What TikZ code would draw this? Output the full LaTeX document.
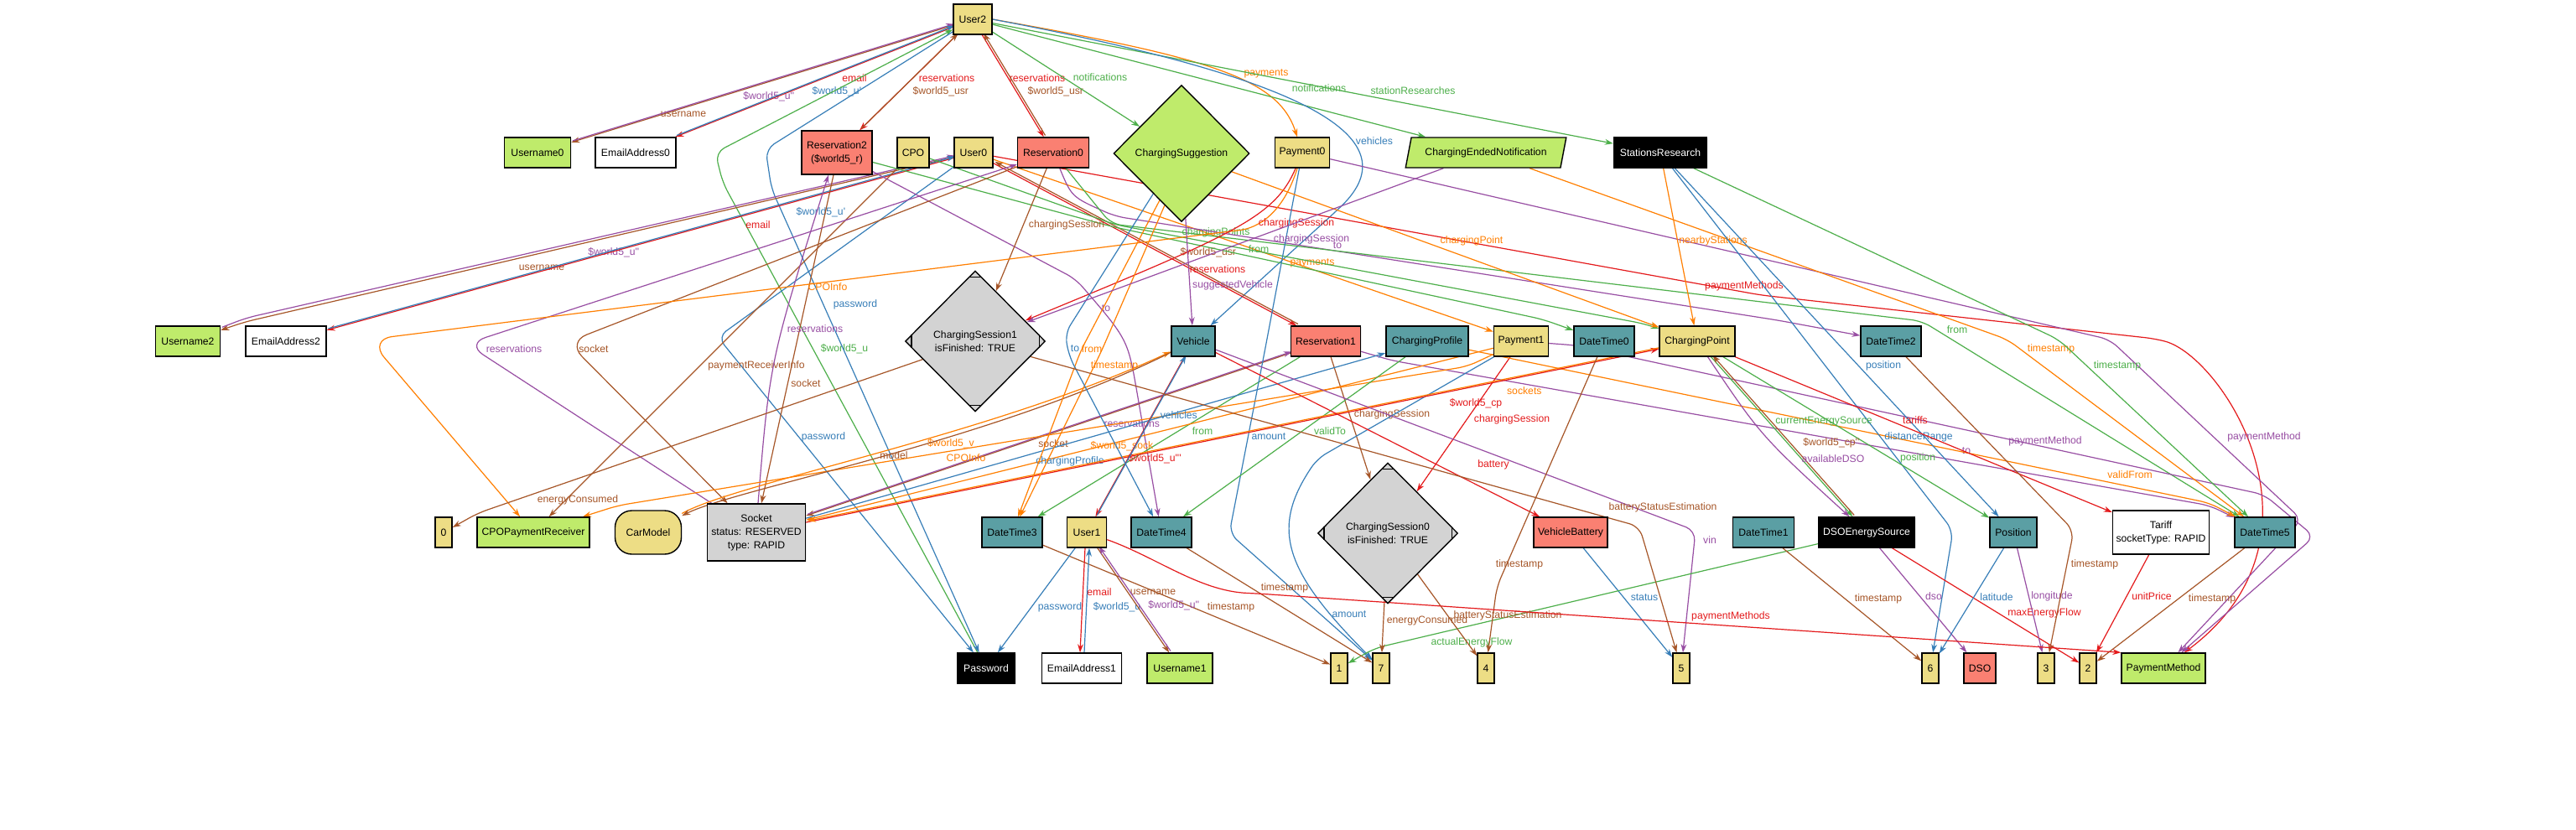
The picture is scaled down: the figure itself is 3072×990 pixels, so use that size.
\documentclass[tikz,border=0pt]{standalone}
\usepackage{fontspec}
\newfontfamily\lab{Liberation Sans}
\usetikzlibrary{shapes.geometric,arrows.meta,shadows}
\definecolor{eR}{HTML}{E41A1C}
\definecolor{eB}{HTML}{377EB8}
\definecolor{eG}{HTML}{4DAF4A}
\definecolor{eP}{HTML}{984EA3}
\definecolor{eO}{HTML}{FF7F00}
\definecolor{eN}{HTML}{A65628}
\definecolor{nY}{HTML}{EDDD85}
\definecolor{nG}{HTML}{BFEB6B}
\definecolor{nS}{HTML}{FA8072}
\definecolor{nT}{HTML}{5B9FA4}
\definecolor{nX}{HTML}{D3D3D3}
\newcommand\dfont{\lab\fontsize{6.1}{8}\selectfont}
\pgfdeclarelayer{bg}
\pgfdeclarelayer{edges}
\pgfsetlayers{bg,edges,main}
\begin{document}
\begin{tikzpicture}[x=0.5pt,y=-0.5pt,
 shd/.style={drop shadow={shadow xshift=0.5pt,shadow yshift=-0.5pt,opacity=0.15}},
 nbox/.style={draw,line width=0.7pt,rectangle,inner sep=0.5pt,minimum height=18pt,font=\dfont,align=center,shd},
 dia/.style={diamond,draw,line width=0.7pt,inner sep=0pt,font=\dfont,align=center,shd},
 para/.style={trapezium,trapezium left angle=67,trapezium right angle=113,trapezium stretches=true,draw,line width=0.7pt,minimum width=96pt,minimum height=18pt,inner sep=0.5pt,font=\dfont,shd},
 yel/.style={fill=nY}, grn/.style={fill=nG}, sal/.style={fill=nS}, tea/.style={fill=nT},
 gry/.style={fill=nX}, blk/.style={fill=black,text=white}, wht/.style={fill=white},
 e/.style={line width=0.6pt,-{Stealth[length=5pt,width=3.4pt]},rounded corners=6pt},
 o1/.style={transform canvas={shift={(0.9pt,0.9pt)}}},
 lb/.style={font=\dfont,inner sep=0pt}]
\begin{pgfonlayer}{bg}
\fill[white] (0,0) rectangle (3072,990);
\end{pgfonlayer}
\useasboundingbox (0,0) rectangle (3072,990);
% ---------------- nodes ----------------
\node[nbox,yel,minimum width=23pt] (User2) at (1160,23) {User2};
\node[nbox,grn,minimum width=39.5pt] (Username0) at (641,182) {Username0};
\node[nbox,wht,minimum width=48pt] (EmailAddress0) at (758,182) {EmailAddress0};
\node[nbox,sal,minimum width=42pt,minimum height=26pt] (Reservation2) at (998,182) {Reservation2\\(\$world5\_r)};
\node[nbox,yel,minimum width=19pt] (CPO) at (1089,182) {CPO};
\node[nbox,yel,minimum width=23pt] (User0) at (1161,182) {User0};
\node[nbox,sal,minimum width=42.5pt] (Reservation0) at (1256,182) {Reservation0};
\node[dia,grn,minimum width=81pt,minimum height=81.5pt] (ChargingSuggestion) at (1409,183) {ChargingSuggestion};
\node[nbox,yel,minimum width=32.5pt] (Payment0) at (1553,182) {Payment0};
\node[para,grn] (ChargingEndedNotification) at (1772,182) {ChargingEndedNotification};
\node[nbox,blk,minimum width=55.5pt] (StationsResearch) at (1980,182) {StationsResearch};
\node[nbox,grn,minimum width=38.5pt] (Username2) at (224,407) {Username2};
\node[nbox,wht,minimum width=48pt] (EmailAddress2) at (341,407) {EmailAddress2};
\node[dia,gry,minimum width=83.5pt,minimum height=84pt] (CS1) at (1163,407) {ChargingSession1\\isFinished: TRUE};
\node[nbox,tea,minimum width=26pt] (Vehicle) at (1423,407) {Vehicle};
\node[nbox,sal,minimum width=41.5pt] (Reservation1) at (1581,407) {Reservation1};
\node[nbox,tea,minimum width=49pt] (ChargingProfile) at (1702,407) {ChargingProfile};
\node[nbox,yel,minimum width=32.5pt] (Payment1) at (1814,407) {Payment1};
\node[nbox,tea,minimum width=36pt] (DateTime0) at (1913,407) {DateTime0};
\node[nbox,yel,minimum width=45pt] (ChargingPoint) at (2024,407) {ChargingPoint};
\node[nbox,tea,minimum width=36pt] (DateTime2) at (2255,407) {DateTime2};
\node[nbox,yel,minimum width=10pt] (n0) at (529,635) {0};
\node[nbox,grn,minimum width=67pt] (CPOPaymentReceiver) at (636,635) {CPOPaymentReceiver};
\node[nbox,yel,minimum width=39.5pt,minimum height=26pt,rounded corners=10pt] (CarModel) at (773,635) {CarModel};
\node[nbox,gry,minimum width=58.5pt,minimum height=34pt] (Socket) at (902,635) {Socket\\status: RESERVED\\type: RAPID};
\node[nbox,tea,minimum width=36pt] (DateTime3) at (1207,635) {DateTime3};
\node[nbox,yel,minimum width=23.5pt] (User1) at (1296,635) {User1};
\node[nbox,tea,minimum width=36pt] (DateTime4) at (1385,635) {DateTime4};
\node[dia,gry,minimum width=83.5pt,minimum height=84pt] (CS0) at (1655,636) {ChargingSession0\\isFinished: TRUE};
\node[nbox,sal,minimum width=44pt] (VehicleBattery) at (1873,635) {VehicleBattery};
\node[nbox,tea,minimum width=36.5pt] (DateTime1) at (2103,635) {DateTime1};
\node[nbox,blk,minimum width=57.5pt] (DSOEnergySource) at (2226,635) {DSOEnergySource};
\node[nbox,tea,minimum width=28pt] (Position) at (2401,635) {Position};
\node[nbox,wht,minimum width=57.5pt,minimum height=26pt] (Tariff) at (2577,635) {Tariff\\socketType: RAPID};
\node[nbox,tea,minimum width=36pt] (DateTime5) at (2701,635) {DateTime5};
\node[nbox,blk,minimum width=34.5pt] (Password) at (1176,797) {Password};
\node[nbox,wht,minimum width=47.5pt] (EmailAddress1) at (1290,797) {EmailAddress1};
\node[nbox,grn,minimum width=39pt] (Username1) at (1407,797) {Username1};
\node[nbox,yel,minimum width=10pt] (n1) at (1597,797) {1};
\node[nbox,yel,minimum width=10pt] (n7) at (1647,797) {7};
\node[nbox,yel,minimum width=10pt] (n4) at (1772,797) {4};
\node[nbox,yel,minimum width=10pt] (n5) at (2005,797) {5};
\node[nbox,yel,minimum width=10pt] (n6) at (2302,797) {6};
\node[nbox,sal,minimum width=19pt] (DSO) at (2361,797) {DSO};
\node[nbox,yel,minimum width=10pt] (n3) at (2440,797) {3};
\node[nbox,yel,minimum width=10pt] (n2) at (2490,797) {2};
\node[nbox,grn,minimum width=50pt] (PaymentMethod) at (2580,797) {PaymentMethod};
% Mdiamond corner marks
\foreach \n in {CS0,CS1}{
 \draw[line width=0.7pt] ([shift={(-8,8)}]\n.north) -- ([shift={(8,8)}]\n.north);
 \draw[line width=0.7pt] ([shift={(-8,-8)}]\n.south) -- ([shift={(8,-8)}]\n.south);
 \draw[line width=0.7pt] ([shift={(8,-8)}]\n.west) -- ([shift={(8,8)}]\n.west);
 \draw[line width=0.7pt] ([shift={(-8,-8)}]\n.east) -- ([shift={(-8,8)}]\n.east);
}
% ---------------- edges ----------------
\begin{pgfonlayer}{edges}
% User2
\draw[e,eN] (User2) -- (Username0) node[lb] at (815,136) {username};
\draw[e,eP,o1] (Username0) -- (User2) node[lb] at (915,117) {\$world5\_u'{}'};
\draw[e,eR] (User2) -- (EmailAddress0) node[lb] at (1019,93) {email};
\draw[e,eB,o1] (EmailAddress0) -- (User2) node[lb] at (996,111) {\$world5\_u'};
\draw[e,eR] (User2) -- (Reservation2) node[lb] at (1129,93) {reservations};
\draw[e,eN,o1] (Reservation2) -- (User2) node[lb] at (1120,111) {\$world5\_usr};
\draw[e,eR] (User2) -- (Reservation0) node[lb] at (1237,93) {reservations};
\draw[e,eN,o1] (Reservation0) -- (User2) node[lb] at (1257,111) {\$world5\_usr};
\draw[e,eG] (User2) -- (ChargingSuggestion) node[lb] at (1312,92) {notifications};
\draw[e,eO] (User2.east) .. controls (1450,70) and (1525,95) .. (Payment0) node[lb] at (1510,88) {payments};
\draw[e,eG] (User2) -- (ChargingEndedNotification) node[lb] at (1573,105) {notifications};
\draw[e,eG] (User2) -- (StationsResearch) node[lb] at (1685,108) {stationResearches};
\draw[e,eB] (User2.east) .. controls (1540,90) and (1690,160) .. (1590,255) -- (Vehicle) node[lb] at (1639,168) {vehicles};
\draw[e,eG] (Password) -- (862,218) -- (853,182) -- (User2) node[lb] at (1007,416) {\$world5\_u};
\draw[e,eB] (User2) -- (913,178) -- (920,225) -- (Password) node[lb] at (1020,363) {password};
% User0
\draw[e,eN] (User0) -- (292,384) -- (Username2) node[lb] at (646,319) {username};
\draw[e,eP,o1] (Username2) -- (292,381) -- (User0) node[lb] at (730,303) {\$world5\_u'{}'};
\draw[e,eR] (User0) -- (EmailAddress2) node[lb] at (904,268) {email};
\draw[e,eB,o1] (EmailAddress2) -- (User0) node[lb] at (977,255) {\$world5\_u'};
\draw[e,eB] (User0) -- (856,402) -- (Password) node[lb] at (982,521) {password};
\draw[e,eR] (User0) -- (Reservation1) node[lb] at (1452,321) {reservations};
\draw[e,eN,o1] (Reservation1) -- (User0) node[lb] at (1439,303) {\$world5\_usr};
\draw[e,eO] (User0) -- (Payment1) node[lb] at (1565,314) {payments};
\draw[e,eR] (User0) -- (2100,352) -- (2570,404) .. controls (2650,425) and (2790,640) .. (PaymentMethod) node[lb] at (2080,341) {paymentMethods};
% CPO
\draw[e,eG] (CPO) -- (1330,268) -- (1960,386) -- (ChargingPoint) node[lb] at (1450,277) {chargingPoints};
\draw[e,eN] (CPO) -- (CPOPaymentReceiver) node[lb] at (902,436) {paymentReceiverInfo};
% Reservation2
\draw[e,eG] (Reservation2) -- (1325,270) -- (1840,381) -- (DateTime0) node[lb] at (1501,297) {from};
\draw[e,eP] (Reservation2) -- (1283,333) .. controls (1345,405) .. (1358,480) -- (DateTime4) node[lb] at (1319,368) {to};
\draw[e,eN] ([xshift=-2pt]Reservation2.south) -- ([xshift=3pt]Socket.north) node[lb] at (961,457) {socket};
\draw[e,eP] ([xshift=1pt]Socket.north) .. controls (918,430) .. ([xshift=-5pt]Reservation2.south) node[lb] at (972,392) {reservations};
% Reservation0
\draw[e,eP] (Reservation0) .. controls (1278,235) .. (1330,258) -- (2120,382) -- (DateTime2) node[lb] at (1595,293) {to};
\draw[e,eG] (Reservation0) -- (1325,267) -- (2292,383) -- (DateTime5) node[lb] at (2334,393) {from};
\draw[e,eN] (Reservation0) -- (CS1) node[lb] at (1272,268) {chargingSession};
\draw[e,eP,rounded corners=12pt] (Socket) -- (556,410) -- (Reservation0) node[lb] at (613,416) {reservations};
\draw[e,eN,rounded corners=12pt] (Reservation0) -- (677,408) -- (Socket) node[lb] at (708,416) {socket};
% Reservation1
\draw[e,eG] (Reservation1) -- (DateTime3) node[lb] at (1434,514) {from};
\draw[e,eP] (Reservation1) -- (1660,430) -- (2635,603) -- (DateTime5) node[lb] at (2345,538) {to};
\draw[e,eN] (Reservation1) -- (Socket) node[lb] at (1256,529) {socket};
\draw[e,eP,o1] (Socket) -- (Reservation1) node[lb] at (1348,507) {reservations};
\draw[e,eN] (Reservation1) -- (CS0) node[lb] at (1660,494) {chargingSession};
% Payment0
\draw[e,eO,rounded corners=14pt] (Payment0) .. controls (1530,255) and (1500,272) .. (1450,278) -- (440,405) -- (CPOPaymentReceiver) node[lb] at (987,342) {CPOInfo};
\draw[e,eR] (Payment0) .. controls (1520,260) and (1470,280) .. (CS1) node[lb] at (1546,266) {chargingSession};
\draw[e,eB] (Payment0) -- (1508,420) -- (1466,636) -- (n7) node[lb] at (1513,521) {amount};
\draw[e,eP] (Payment0) -- (2120,313) -- (2516,405) -- (2745,620) -- (PaymentMethod) node[lb] at (2700,521) {paymentMethod};
% Payment1
\draw[e,eO] (Payment1) -- (1750,437) -- (737,603) -- (CPOPaymentReceiver) node[lb] at (1152,546) {CPOInfo};
\draw[e,eO] (Payment1) -- (Socket) node[lb] at (1338,532) {\$world5\_sock};
\draw[e,eR] (Payment1) -- (CS0) node[lb] at (1803,500) {chargingSession};
\draw[e,eB] (Payment1) -- (1571,547) .. controls (1515,630) and (1530,680) .. (n7) node[lb] at (1609,733) {amount};
\draw[e,eP] (Payment1) -- (1880,412) -- (2700,590) -- (2760,640) -- (PaymentMethod) node[lb] at (2439,526) {paymentMethod};
% ChargingProfile
\draw[e,eG] (ChargingProfile) -- (DateTime4) node[lb] at (1586,514) {validTo};
\draw[e,eO] (ChargingProfile) -- (2635,600) -- (DateTime5) node[lb] at (2540,566) {validFrom};
% Socket
\draw[e,eB] (Socket) -- (ChargingProfile) node[lb] at (1276,550) {chargingProfile};
\draw[e,eR] (Socket) -- (ChargingPoint) node[lb] at (1760,481) {\$world5\_cp};
\draw[e,eO,o1] (ChargingPoint) -- (Socket) node[lb] at (1816,468) {sockets};
% CarModel / Vehicle
\draw[e,eO] (CarModel) .. controls (880,575) and (1180,520) .. (Vehicle) node[lb] at (1134,529) {\$world5\_v};
\draw[e,eN] (Vehicle) .. controls (1180,528) and (880,582) .. (CarModel) node[lb] at (1066,543) {model};
\draw[e,eR] (Vehicle) -- (User1) node[lb] at (1377,547) {\$world5\_u'{}'{}'};
\draw[e,eB,o1] (User1) -- (Vehicle) node[lb] at (1404,497) {vehicles};
\draw[e,eR] (Vehicle) -- (VehicleBattery) node[lb] at (1781,554) {battery};
\draw[e,eP] (Vehicle) -- (2022,633) -- (n5) node[lb] at (2039,644) {vin};
\draw[e,eB] (VehicleBattery) -- (n5) node[lb] at (1961,713) {status};
% ChargingSuggestion
\draw[e,eP] (ChargingSuggestion) -- (Vehicle) node[lb] at (1470,340) {suggestedVehicle};
\draw[e,eO] (ChargingSuggestion.245) -- (1289,418) -- (DateTime3) node[lb] at (1302,416) {from};
\draw[e,eO] (ChargingSuggestion.252) -- (1313,420) -- (DateTime3) node[lb] at (1329,436) {timestamp};
\draw[e,eB] (ChargingSuggestion.235) -- (1270,398) -- (1275,425) -- (DateTime4) node[lb] at (1282,416) {to};
\draw[e,eO] (ChargingSuggestion) -- (ChargingPoint) node[lb] at (1755,287) {chargingPoint};
% ChargingEndedNotification
\draw[e,eP] (ChargingEndedNotification) -- (CS1) node[lb] at (1564,285) {chargingSession};
\draw[e,eO] (ChargingEndedNotification) -- (2394,405) -- (DateTime5) node[lb] at (2446,416) {timestamp};
% StationsResearch
\draw[e,eO] (StationsResearch) -- (ChargingPoint) node[lb] at (2043,287) {nearbyStations};
\draw[e,eB] (StationsResearch) -- (Position) node[lb] at (2246,436) {position};
\draw[e,eB] (StationsResearch) -- (2329,633) -- (n6) node[lb] at (2288,521) {distanceRange};
\draw[e,eG] (StationsResearch) -- (2455,405) -- (DateTime5) node[lb] at (2525,436) {timestamp};
% ChargingPoint
\draw[e,eR] (ChargingPoint) -- (Tariff) node[lb] at (2284,501) {tariffs};
\draw[e,eG] (ChargingPoint) -- (Position) node[lb] at (2287,546) {position};
\draw[e,eG] (ChargingPoint) -- (DSOEnergySource) node[lb] at (2175,503) {currentEnergySource};
\draw[e,eN,o1] (DSOEnergySource) -- (ChargingPoint) node[lb] at (2182,530) {\$world5\_cp'{}'};
\draw[e,eP] (ChargingPoint) .. controls (2100,520) .. (DSOEnergySource) node[lb] at (2186,547) {availableDSO};
% DSOEnergySource
\draw[e,eP] (DSOEnergySource) -- (DSO) node[lb] at (2306,711) {dso};
\draw[e,eR] (DSOEnergySource) -- (n2) node[lb] at (2438,731) {maxEnergyFlow};
\draw[e,eG] (DSOEnergySource) -- (1640,773) -- (n1) node[lb] at (1755,766) {actualEnergyFlow};
% Position, Tariff
\draw[e,eB] (Position) -- (n6) node[lb] at (2381,712) {latitude};
\draw[e,eP] (Position) -- (n3) node[lb] at (2447,711) {longitude};
\draw[e,eR] (Tariff) -- (n2) node[lb] at (2566,711) {unitPrice};
% DateTimes
\draw[e,eN] (DateTime5) -- (n2) node[lb] at (2638,714) {timestamp};
\draw[e,eN] (DateTime2) -- (2473,633) -- (n3) node[lb] at (2498,673) {timestamp};
\draw[e,eN] (DateTime1) -- (n6) node[lb] at (2240,714) {timestamp};
\draw[e,eN] (DateTime0) -- (1785,700) -- (n4) node[lb] at (1812,673) {timestamp};
\draw[e,eN] (DateTime3) -- (n1) node[lb] at (1468,724) {timestamp};
\draw[e,eN] (DateTime4) -- (n7) node[lb] at (1532,701) {timestamp};
% ChargingSessions
\draw[e,eN] (CS1) -- (570,612) -- (n0) node[lb] at (689,596) {energyConsumed};
\draw[e,eN] (CS1) -- (1955,628) -- (n5) node[lb] at (1983,605) {batteryStatusEstimation};
\draw[e,eN] (CS0) -- (n7) node[lb] at (1702,740) {energyConsumed};
\draw[e,eN] (CS0) -- (n4) node[lb] at (1798,734) {batteryStatusEstimation};
% User1
\draw[e,eB] (User1) -- (Password) node[lb] at (1264,724) {password};
\draw[e,eR] ([xshift=-1pt]User1.south) -- ([xshift=-1pt]EmailAddress1.north) node[lb] at (1311,706) {email};
\draw[e,eB] ([xshift=1.5pt]EmailAddress1.north) -- ([xshift=1.5pt]User1.south) node[lb] at (1332,724) {\$world5\_u};
\draw[e,eN] (User1) -- (Username1) node[lb] at (1375,706) {username};
\draw[e,eP,o1] (Username1) -- (User1) node[lb] at (1398,724) {\$world5\_u'{}'};
\draw[e,eR] (User1) .. controls (1380,665) and (1430,705) .. (1500,708) -- (PaymentMethod.north west) node[lb] at (2064,735) {paymentMethods};
\end{pgfonlayer}
\end{tikzpicture}
\end{document}
